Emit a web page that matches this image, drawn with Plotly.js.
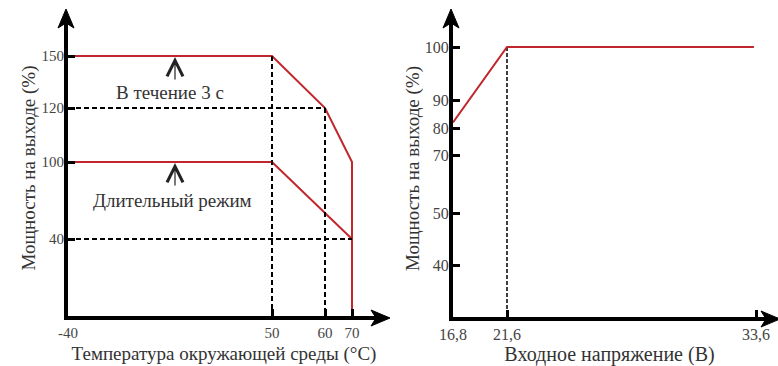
<!DOCTYPE html>
<html><head><meta charset="utf-8">
<script src="https://cdn.plot.ly/plotly-3.0.1.min.js"></script>
<style>html,body{margin:0;padding:0;background:#fff;overflow:hidden}</style>
</head><body><div id="chart" style="width:778px;height:366px"></div>
<script>
// ---------- DATA ----------
// Left chart: output power vs ambient temperature
const tempTicks = [-40, 50, 60, 70];
const tempTickLabels = ['-40', '50', '60', '70'];
const powerTicksLeft = [40, 100, 120, 150];
const powerTickLabelsLeft = ['40', '100', '120', '150'];
const peakTemp = [-38, 50, 60, 70, 70];      // "В течение 3 с"
const peakPower = [150, 150, 120, 100, 0];
const contTemp = [-38, 50, 70];              // "Длительный режим"
const contPower = [100, 100, 40];
// Right chart: output power vs input voltage
const voltTicks = [16.8, 21.6, 33.6];
const voltTickLabels = ['16,8', '21,6', '33,6'];
const powerTicksRight = [40, 50, 70, 80, 90, 100];
const powerTickLabelsRight = ['40', '50', '70', '80', '90', '100'];
const voltCurveV = [16.8, 21.6, 33.5];
const voltCurveP = [82, 100, 100];

// ---------- schematic (non-linear) scales ----------
function piecewise(vals, disp) {
  return v => {
    for (let i = 0; i < vals.length - 1; i++) {
      if (v <= vals[i + 1] || i === vals.length - 2) {
        const t = (v - vals[i]) / (vals[i + 1] - vals[i]);
        return disp[i] + t * (disp[i + 1] - disp[i]);
      }
    }
  };
}
const W = 778, H = 366;
const L1 = 68, R1 = 380, T1 = 20, B1 = 316;
const L2 = 453, R2 = 766, T2 = 20, B2 = 317;
const sxL = piecewise([-40, 50, 60, 70], [0, 204, 257, 284]);
const syL = piecewise([0, 40, 100, 120, 150], [0, 77, 154, 208, 260]);
const sxR = piecewise([16.8, 21.6, 33.6], [0, 54, 303]);
const syR = piecewise([0, 40, 50, 70, 80, 90, 100], [0, 52, 104, 162, 189, 217, 270]);

const red = '#c0262c';
const serif = 'Liberation Serif';
const kneeT1 = peakTemp[1], kneeP1 = peakPower[1];
const kneeT2 = peakTemp[2], kneeP2 = peakPower[2];
const endT = contTemp[2], endP = contPower[2];
const dashStyle = {color: '#000', width: 2, dash: '5px,3px'};

const traces = [
  {x: peakTemp.map(sxL), y: peakPower.map(syL), xaxis: 'x', yaxis: 'y', mode: 'lines', line: {color: red, width: 2}, hoverinfo: 'skip'},
  {x: contTemp.map(sxL), y: contPower.map(syL), xaxis: 'x', yaxis: 'y', mode: 'lines', line: {color: red, width: 2}, hoverinfo: 'skip'},
  {x: [tempTicks[0], kneeT2].map(sxL), y: [kneeP2, kneeP2].map(syL), xaxis: 'x', yaxis: 'y', mode: 'lines', line: dashStyle, hoverinfo: 'skip'},
  {x: [tempTicks[0], endT].map(sxL), y: [endP, endP].map(syL), xaxis: 'x', yaxis: 'y', mode: 'lines', line: dashStyle, hoverinfo: 'skip'},
  {x: [kneeT1, kneeT1].map(sxL), y: [kneeP1, 0].map(syL), xaxis: 'x', yaxis: 'y', mode: 'lines', line: dashStyle, hoverinfo: 'skip'},
  {x: [kneeT2, kneeT2].map(sxL), y: [kneeP2, 0].map(syL), xaxis: 'x', yaxis: 'y', mode: 'lines', line: dashStyle, hoverinfo: 'skip'},
  {x: [voltCurveV[1], voltCurveV[1]].map(sxR), y: [voltCurveP[1], 0].map(syR), xaxis: 'x2', yaxis: 'y2', mode: 'lines', line: {color: '#000', width: 1.5, dash: '4px,2px'}, hoverinfo: 'skip'},
  {x: voltCurveV.map(sxR), y: voltCurveP.map(syR), xaxis: 'x2', yaxis: 'y2', mode: 'lines', line: {color: red, width: 2}, hoverinfo: 'skip'}
];
function ax(extra) {
  return Object.assign({showline: true, linewidth: 4, linecolor: '#000', showgrid: false, zeroline: false,
    ticks: 'inside', ticklen: 7, tickwidth: 3, tickcolor: '#000', tickfont: {family: serif, size: 15, color: '#444'}, fixedrange: true}, extra);
}
const px = x => x / W, py = y => 1 - y / H;
function arrow(tx, ty, dir) {
  let pts;
  if (dir === 'up') pts = [[tx, ty], [tx - 8, ty + 19], [tx, ty + 14], [tx + 8, ty + 19]];
  else pts = [[tx, ty], [tx - 19, ty - 8], [tx - 14, ty], [tx - 19, ty + 8]];
  const d = 'M' + pts.map(p => px(p[0]) + ',' + py(p[1])).join(' L') + ' Z';
  return {type: 'path', xref: 'paper', yref: 'paper', path: d, fillcolor: '#000', line: {color: '#000', width: 1}};
}
const layout = {
  width: W, height: H, margin: {l: 0, r: 0, t: 0, b: 0}, showlegend: false,
  xaxis: ax({domain: [px(L1), px(R1)], range: [0, R1 - L1], anchor: 'y', tickvals: tempTicks.map(sxL), ticktext: tempTickLabels,
    title: {text: 'Температура окружающей среды (°C)', font: {family: serif, size: 19, color: '#333'}, standoff: 8}}),
  yaxis: ax({domain: [py(B1), py(T1)], range: [0, B1 - T1], anchor: 'x', tickvals: powerTicksLeft.map(syL), ticktext: powerTickLabelsLeft, ticklabelstandoff: -3,
    title: {text: 'Мощность на выходе (%)', font: {family: serif, size: 19, color: '#333'}, standoff: 2}}),
  xaxis2: ax({domain: [px(L2), px(R2)], range: [0, R2 - L2], anchor: 'y2', tickvals: voltTicks.map(sxR), ticktext: voltTickLabels, tickfont: {family: serif, size: 16, color: '#444'},
    title: {text: 'Входное напряжение (В)', font: {family: serif, size: 20, color: '#333'}, standoff: 23}}),
  yaxis2: ax({domain: [py(B2), py(T2)], range: [0, B2 - T2], anchor: 'x2', tickvals: powerTicksRight.map(syR), ticktext: powerTickLabelsRight, ticklabelstandoff: -3,
    tickfont: {family: serif, size: 16, color: '#444'},
    title: {text: 'Мощность на выходе (%)', font: {family: serif, size: 19, color: '#333'}, standoff: 1}}),
  shapes: [arrow(66, 9, 'up'), arrow(390, 318, 'right'), arrow(451, 9, 'up'), arrow(780, 319, 'right')],
  annotations: [
    {xref: 'paper', yref: 'paper', x: px(170), y: py(92), xanchor: 'center', yanchor: 'middle', text: 'В течение 3 с', showarrow: false, font: {family: serif, size: 19, color: '#333'}},
    {xref: 'paper', yref: 'paper', x: px(172), y: py(200), xanchor: 'center', yanchor: 'middle', text: 'Длительный режим', showarrow: false, font: {family: serif, size: 19, color: '#333'}},
    {xref: 'paper', yref: 'paper', x: px(175), y: py(57), ax: 0, ay: 24, text: '', showarrow: true, arrowhead: 5, arrowsize: 2.6, arrowwidth: 1.2, arrowcolor: '#222'},
    {xref: 'paper', yref: 'paper', x: px(175), y: py(163), ax: 0, ay: 24, text: '', showarrow: true, arrowhead: 5, arrowsize: 2.6, arrowwidth: 1.2, arrowcolor: '#222'}
  ]
};
Plotly.newPlot('chart', traces, layout, {displayModeBar: false, staticPlot: true});
</script></body></html>
